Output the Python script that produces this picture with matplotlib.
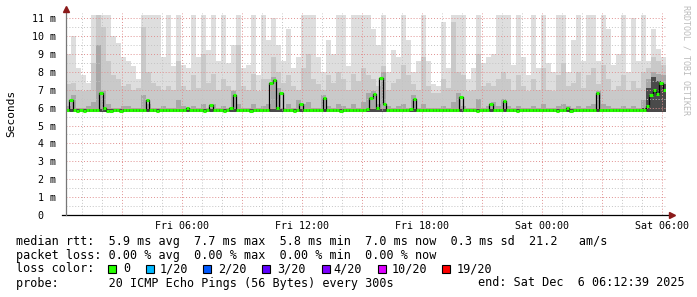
import numpy as np
from matplotlib import pyplot as plt
from matplotlib.patches import Rectangle

plt.rcParams['font.family'] = ['DejaVu Sans Mono']

# hours since Fri 00:00, 15 min smoke samples, 10 min median samples
t_start = 0.2
t_end = 30.2

# smoke envelope (ms), one value per 15 min
smoke_max = [9.0, 10.0, 8.2, 7.8, 7.4, 11.2, 11.2, 11.2, 11.2, 10.0,
             9.6, 8.8, 8.6, 8.3, 7.6, 11.2, 11.2, 11.2, 11.2, 8.8,
             11.2, 8.3, 11.2, 8.4, 8.2, 11.2, 8.8, 11.2, 9.2, 11.2,
             8.6, 11.2, 8.5, 9.5, 11.2, 8.2, 8.4, 11.2, 7.8, 11.2,
             9.8, 11.0, 9.5, 8.6, 10.4, 8.2, 8.8, 11.2, 11.2, 11.2,
             8.8, 8.0, 9.8, 9.0, 11.2, 11.2, 8.3, 11.2, 11.2, 11.2,
             11.2, 10.4, 9.5, 11.2, 8.0, 9.2, 8.8, 11.2, 9.8, 8.0,
             8.6, 11.2, 8.6, 7.3, 7.2, 10.8, 8.2, 11.2, 11.2, 11.2,
             7.6, 8.2, 11.2, 8.5, 8.8, 9.0, 11.2, 11.2, 11.2, 8.4,
             11.2, 8.8, 7.8, 11.2, 8.2, 11.2, 8.5, 8.0, 11.2, 11.2,
             8.0, 9.8, 11.2, 8.6, 11.2, 11.2, 8.6, 11.2, 10.4, 8.4,
             9.0, 11.2, 8.0, 11.0, 8.6, 11.2, 8.6, 10.4, 9.3, 8.8]
smoke_upper = [7.3, 7.4, 7.0, 6.9, 7.0, 8.5, 11.2, 10.5, 8.6, 7.8,
               7.6, 7.2, 7.3, 7.0, 7.1, 10.5, 8.0, 7.4, 7.2, 7.0,
               7.2, 7.0, 8.6, 7.2, 7.0, 7.8, 7.1, 9.0, 7.4, 7.9,
               7.0, 7.6, 7.2, 7.0, 9.5, 7.2, 7.0, 7.9, 6.9, 7.6,
               7.6, 8.8, 8.0, 7.4, 7.8, 7.2, 7.0, 8.2, 9.0, 7.6,
               7.3, 7.0, 7.8, 7.4, 8.0, 7.6, 7.0, 7.9, 7.5, 8.2,
               7.8, 7.6, 7.2, 8.3, 7.0, 7.4, 7.6, 8.4, 7.8, 7.3,
               7.0, 8.8, 7.2, 6.8, 6.8, 7.6, 7.1, 10.8, 8.0, 7.8,
               6.9, 7.0, 9.0, 7.2, 7.4, 7.2, 7.6, 8.0, 7.6, 7.0,
               7.8, 7.2, 6.9, 7.6, 7.0, 8.2, 7.0, 6.9, 7.8, 8.5,
               7.2, 7.4, 8.0, 7.1, 7.8, 8.2, 7.3, 8.4, 7.6, 7.0,
               7.2, 7.8, 7.0, 7.5, 7.1, 8.0, 8.2, 8.8, 8.6, 8.4]
smoke_dark = [6.1, 6.7, 6.0, 6.0, 6.1, 6.3, 9.5, 6.9, 6.2, 6.0,
              6.0, 6.1, 6.1, 6.0, 6.0, 6.7, 6.2, 6.0, 6.0, 6.1,
              6.0, 6.0, 6.4, 6.1, 6.0, 6.1, 6.0, 6.2, 6.0, 6.2,
              6.0, 6.1, 6.0, 6.9, 6.2, 6.0, 6.0, 6.2, 6.0, 6.1,
              6.2, 7.7, 7.1, 6.0, 6.2, 6.0, 6.4, 6.2, 6.3, 6.0,
              6.0, 6.7, 6.1, 6.0, 6.2, 6.1, 6.0, 6.2, 6.0, 6.3,
              6.8, 6.9, 6.2, 8.0, 6.1, 6.0, 6.1, 6.2, 6.0, 6.7,
              6.0, 6.2, 6.0, 5.95, 5.95, 6.1, 6.0, 6.3, 6.8, 6.1,
              6.0, 6.0, 6.5, 6.0, 6.1, 6.3, 6.1, 6.5, 6.1, 6.0,
              6.1, 6.0, 5.95, 6.1, 6.0, 6.2, 6.0, 5.95, 6.1, 6.2,
              6.1, 6.0, 6.1, 6.0, 6.1, 6.2, 6.9, 6.2, 6.1, 6.0,
              6.0, 6.1, 6.0, 6.1, 6.0, 6.4, 7.6, 8.0, 7.9, 7.8]
# darkest smoke, only visible in the last hour
smoke_core = [5.9] * 115 + [6.0, 7.1, 7.7, 7.5, 7.3]
smoke_min = [5.74] * 120

# median rtt (ms), one value per 10 min
median = [5.85, 6.45, 5.88, 5.83, 5.85, 5.82, 5.84, 5.86, 5.85, 5.88,
          6.8, 6.0, 5.83, 5.82, 5.84, 5.85, 5.83, 5.84, 5.86, 5.85,
          5.84, 5.85, 5.87, 5.84, 6.4, 5.85, 5.84, 5.83, 5.85, 5.84,
          5.85, 5.84, 5.86, 5.85, 5.84, 5.88, 6.0, 5.87, 5.84, 5.85,
          5.84, 5.83, 5.85, 6.15, 5.86, 5.85, 5.84, 5.83, 5.85, 6.0,
          6.7, 5.86, 5.84, 5.85, 5.84, 5.83, 5.85, 5.84, 5.86, 5.85,
          5.88, 7.35, 7.55, 6.0, 6.8, 5.87, 5.85, 5.84, 5.83, 5.85,
          6.2, 5.86, 5.84, 5.85, 5.84, 5.85, 5.87, 6.55, 5.86, 5.84,
          5.85, 5.84, 5.83, 5.85, 5.84, 5.85, 5.86, 5.84, 5.85, 5.88,
          5.9, 6.55, 6.75, 5.95, 7.65, 6.2, 5.88, 5.85, 5.84, 5.86,
          5.85, 5.84, 5.86, 5.9, 6.5, 5.87, 5.85, 5.84, 5.86, 5.85,
          5.84, 5.85, 5.86, 5.85, 5.84, 5.85, 5.86, 5.88, 6.6, 5.86,
          5.84, 5.85, 5.84, 5.83, 5.85, 5.84, 5.86, 6.2, 5.85, 5.84,
          5.86, 6.35, 5.87, 5.85, 5.84, 5.83, 5.85, 5.84, 5.85, 5.86,
          5.85, 5.84, 5.85, 5.86, 5.84, 5.85, 5.84, 5.83, 5.85, 5.84,
          6.0, 5.8, 5.84, 5.85, 5.86, 5.85, 5.84, 5.86, 5.88, 6.8,
          5.86, 5.85, 5.84, 5.85, 5.86, 5.84, 5.85, 5.84, 5.85, 5.86,
          5.85, 5.88, 5.84, 5.86, 6.1, 6.7, 7.0, 6.75, 7.35, 7.0]

x_ticks = [3, 6, 9, 12, 15, 18, 21, 24, 27, 30]
x_labels = ['', 'Fri 06:00', '', 'Fri 12:00', '', 'Fri 18:00', '', 'Sat 00:00', '', 'Sat 06:00']
y_ticks = list(range(12))
y_labels = ['0  '] + ['%d m' % v for v in range(1, 12)]

legend_lines = [
    'median rtt:  5.9 ms avg  7.7 ms max  5.8 ms min  7.0 ms now  0.3 ms sd  21.2   am/s',
    'packet loss: 0.00 % avg  0.00 % max  0.00 % min  0.00 % now',
    'loss color:',
    'probe:       20 ICMP Echo Pings (56 Bytes) every 300s',
]
loss_labels = ['0', '1/20', '2/20', '3/20', '4/20', '10/20', '19/20']
loss_colors = ['#26ff00', '#00b8ff', '#0059ff', '#5e00ff', '#7e00ff', '#dd00ff', '#ff0000']
end_text = 'end: Sat Dec  6 06:12:39 2025'

W, H = 697, 297
fig = plt.figure(figsize=(W / 100, H / 100), dpi=100)
fig.patch.set_facecolor('white')
ax = fig.add_axes([66 / W, 1 - 215 / H, 600 / W, 202 / H])

t15 = t_start + 0.25 * np.arange(len(smoke_max) + 1)
t10 = t_start + np.arange(len(median) + 1) / 6.0


def band(lo, hi, color):
    lo = np.append(lo, lo[-1])
    hi = np.append(hi, hi[-1])
    ax.fill_between(t15, lo, hi, step='post', color=color, lw=0, zorder=1)


band(smoke_min, smoke_max, '#dedede')
band(smoke_min, smoke_upper, '#c9c9c9')
band(smoke_min, smoke_dark, '#a8a8a8')
band(smoke_min, smoke_core, '#4a4a4a')

med = np.array(median)
ax.step(t10, np.append(med, med[-1]), where='post', color='black', lw=0.9, zorder=3)
ax.hlines(med, t10[:-1], t10[1:], color=loss_colors[0], lw=2.2, zorder=4)

ax.set_xlim(t_start, t_end)
ax.set_ylim(0, 202 / 17.9)

ax.set_xticks(x_ticks)
ax.set_xticklabels(x_labels, fontsize=7.2)
ax.set_xticks(np.arange(1, 31), minor=True)
ax.set_yticks(y_ticks)
ax.set_yticklabels(y_labels, fontsize=7.2)
ax.set_yticks(np.arange(0.5, 11.5, 1), minor=True)
ax.tick_params(which='both', length=0)
ax.tick_params(axis='y', pad=7)
ax.tick_params(axis='x', pad=4)

ax.set_axisbelow(False)
ax.grid(which='major', color='#e09090', linestyle=(0, (1, 2)), lw=0.7)
ax.grid(which='minor', color='#c4c4c4', linestyle=(0, (1, 2)), lw=0.7)

for s in ax.spines.values():
    s.set_visible(False)

# axes with arrows
ax.plot([-4 / 600, 1.006], [0, 0], transform=ax.transAxes, color='black', lw=0.9, clip_on=False, zorder=5)
ax.plot([0, 0], [0, 1.01], transform=ax.transAxes, color='#777777', lw=0.9, clip_on=False, zorder=5)
ax.plot([1.01], [0], transform=ax.transAxes, marker='>', color='#8b1a1a', ms=4, clip_on=False, zorder=6)
ax.plot([0], [1.02], transform=ax.transAxes, marker='^', color='#8b1a1a', ms=4, clip_on=False, zorder=6)

fig.text(11 / W, 1 - 113 / H, 'Seconds', rotation=90, ha='center', va='center', fontsize=8, color='black')
fig.text(686 / W, 1 - 5 / H, 'RRDTOOL / TOBI OETIKER', rotation=-90, ha='center', va='top',
         fontsize=6, color='#bbbbbb')

fs = 8.5
line_y = [241, 255, 269, 283]
for txt, y in zip(legend_lines, line_y):
    fig.text(16 / W, 1 - y / H, txt, ha='left', va='center', fontsize=fs)
fig.text(478 / W, 1 - 283 / H, end_text, ha='left', va='center', fontsize=fs)

sq_x = [108, 146, 203, 262, 322, 378, 442]
lab_x = [123, 160, 218, 277, 333, 392, 457]
for sx, lx, lab, col in zip(sq_x, lab_x, loss_labels, loss_colors):
    fig.add_artist(Rectangle((sx / W, 1 - 273 / H), 8 / W, 8 / H, transform=fig.transFigure,
                             facecolor=col, edgecolor='black', lw=0.8))
    fig.text(lx / W, 1 - 269 / H, lab, ha='left', va='center', fontsize=fs)

fig.savefig('out.png', dpi=100)
